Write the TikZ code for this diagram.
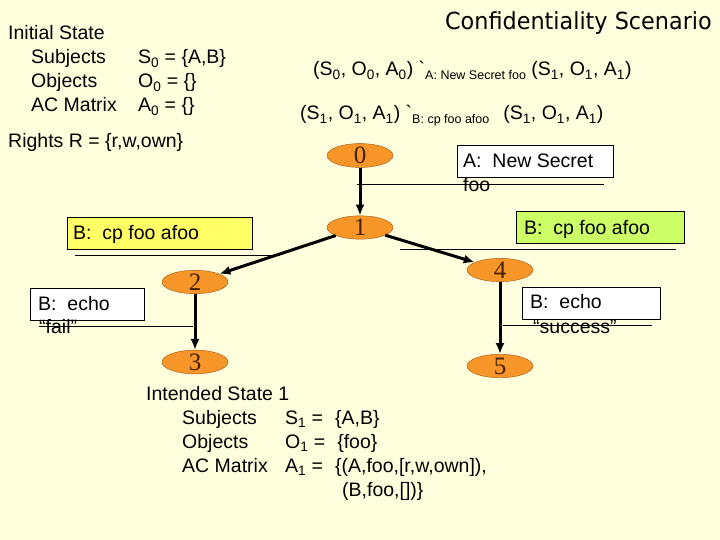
\documentclass[tikz,border=0pt]{standalone}
\usepackage{fontspec}
\setmainfont{Liberation Sans}
\newfontfamily\numfont{Liberation Serif}
\newfontfamily\titlefont{DejaVu Sans}
\usetikzlibrary{
  arrows.meta,
  positioning,
  shapes.geometric,
}
\tikzstyle{txt} = [
  anchor=base west,
  inner sep=0pt,
  font=\fontsize{19.5}{23}\selectfont,
]
\tikzstyle{state} = [
  draw=stateedge,
  ellipse,
  fill=stateorange,
  minimum width=66pt,
  minimum height=23pt,
  inner sep=0pt,
  font=\numfont\fontsize{25}{26}\selectfont,
  text=numbrown,
]
\tikzstyle{move} = [
  -{Latex[length=11pt,width=9pt]},
  line width=3pt,
  black,
]
\tikzstyle{cmdbox} = [draw,rectangle,inner sep=0pt,line width=0.8pt]
\tikzstyle{rule} = [line width=0.8pt,black]
\newcommand{\smalltxt}[1]{\raisebox{-4pt}{\fontsize{12.5}{14}\selectfont #1}}
\definecolor{slidebg}{RGB}{255, 255, 221}
\definecolor{stateorange}{RGB}{247, 150, 40}
\definecolor{stateedge}{RGB}{160, 85, 20}
\definecolor{numbrown}{RGB}{70, 30, 0}
\definecolor{boxyellow}{RGB}{255, 255, 102}
\definecolor{boxgreen}{RGB}{204, 255, 102}

\begin{document}
\begin{tikzpicture}[x=1pt,y=-1pt]
        \fill[slidebg] (0,0) rectangle (720,540);
        \useasboundingbox (0,0) rectangle (720,540);

        \node[anchor=base east,inner sep=0pt,font=\titlefont\fontsize{23.5}{26}\selectfont] (title) at (712,30) {\scalebox{0.95}[1]{Confidentiality Scenario}};

        \node[txt] (init) at (8,40) {Initial State};
        \node[txt] (subj0) at (31,64) {Subjects};
        \node[txt] (obj0) at (31,88) {Objects};
        \node[txt] (acm0) at (31,112) {AC Matrix};
        \node[txt] (s0) at (138,64) {S\textsubscript{0} = \{A,B\}};
        \node[txt] (o0) at (138,88) {O\textsubscript{0} = \{\}};
        \node[txt] (a0) at (138,112) {A\textsubscript{0} = \{\}};
        \node[txt] (rights) at (8,148) {Rights R = \{r,w,own\}};

        \node[txt] (trans1) at (313,76) {(S\textsubscript{0}, O\textsubscript{0}, A\textsubscript{0}) \textasciigrave\smalltxt{A: New Secret foo} (S\textsubscript{1}, O\textsubscript{1}, A\textsubscript{1})};
        \node[txt] (trans2) at (300,120) {(S\textsubscript{1}, O\textsubscript{1}, A\textsubscript{1}) \textasciigrave\smalltxt{B: cp foo afoo}\hspace{14pt}(S\textsubscript{1}, O\textsubscript{1}, A\textsubscript{1})};

        \node[cmdbox,fill=white,minimum width=156,minimum height=32] (newbox) at (535,161) {};
        \node[txt] (newtxt) at (463,168) {A:\ \ New Secret};
        \node[txt] (newfoo) at (463,192) {foo};
        \draw[rule] (357,184) -- (604,184);

        \node[cmdbox,fill=boxyellow,minimum width=185,minimum height=32] (cpleft) at (159.5,233) {};
        \node[txt] (cplefttxt) at (73,240) {B:\ \ cp foo afoo};
        \draw[rule] (75,255) -- (280,255);

        \node[cmdbox,fill=boxgreen,minimum width=168,minimum height=32] (cpright) at (600,227) {};
        \node[txt] (cprighttxt) at (524,234) {B:\ \ cp foo afoo};
        \draw[rule] (400,249) -- (676,249);

        \node[cmdbox,fill=white,minimum width=114,minimum height=32] (failbox) at (87,304) {};
        \node[txt] (failtxt) at (38,310) {B:\ \ echo};
        \node[txt] (failq) at (39,333) {“fail”};
        \draw[rule] (39,326) -- (193,326);

        \node[cmdbox,fill=white,minimum width=138,minimum height=32] (succbox) at (591,303) {};
        \node[txt] (succtxt) at (530,308) {B:\ \ echo};
        \node[txt] (succq) at (533,333) {“success”};
        \draw[rule] (503,325) -- (652,325);

        \node[state] (n0) at (360,155.5) {0};
        \node[state] (n1) at (360,227.5) {1};
        \node[state] (n2) at (195,282) {2};
        \node[state] (n3) at (195,362) {3};
        \node[state] (n4) at (500,270) {4};
        \node[state] (n5) at (500,366) {5};

        \draw[move] (n0) -- (n1);
        \draw[move] (n1) -- (n2);
        \draw[move] (n1) -- (n4);
        \draw[move] (n2) -- (n3);
        \draw[move] (n4) -- (n5);

        \node[txt] (intended) at (146,400) {Intended State 1};
        \node[txt] (subj1) at (182,424) {Subjects};
        \node[txt] (obj1) at (182,448) {Objects};
        \node[txt] (acm1) at (182,472) {AC Matrix};
        \node[txt] (s1) at (285,424) {S\textsubscript{1} =\hspace{12pt}\{A,B\}};
        \node[txt] (o1) at (285,448) {O\textsubscript{1} =\hspace{12pt}\{foo\}};
        \node[txt] (a1) at (285,472) {A\textsubscript{1} =\hspace{12pt}\{(A,foo,[r,w,own]),};
        \node[txt] (a1b) at (342,496) {(B,foo,[])\}};
    \end{tikzpicture}
\end{document}
